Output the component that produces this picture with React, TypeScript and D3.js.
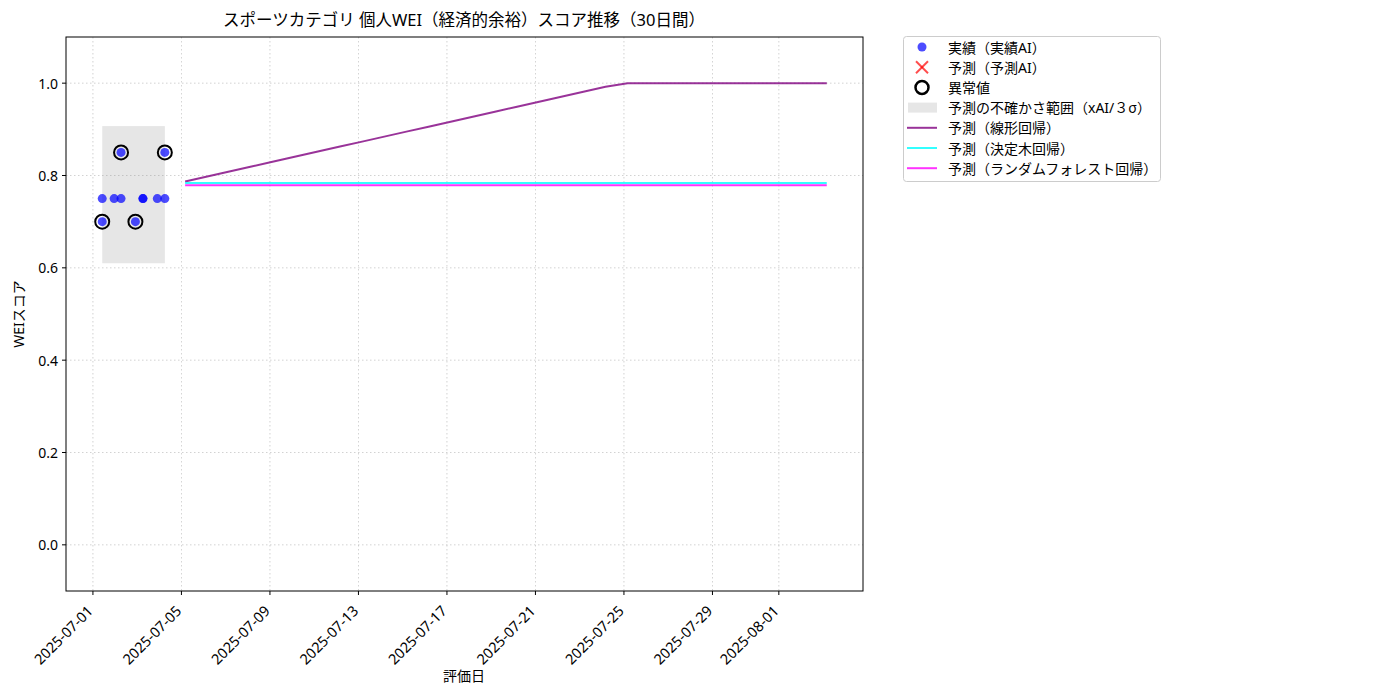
import * as d3 from "d3";

// actual (実績AI) observations
const actualDates = [
  "2025-07-01T10:05Z", "2025-07-01T10:05Z", "2025-07-01T23:00Z", "2025-07-02T06:30Z",
  "2025-07-02T06:30Z", "2025-07-02T22:05Z", "2025-07-03T06:15Z", "2025-07-03T06:15Z",
  "2025-07-03T21:50Z", "2025-07-04T06:00Z", "2025-07-04T06:00Z",
];
const actualValues = [0.75, 0.7, 0.75, 0.75, 0.85, 0.7, 0.75, 0.75, 0.75, 0.75, 0.85];
const outlierFlags = [false, true, false, false, true, true, false, false, false, false, true];

// uncertainty band (xAI / 3σ)
const bandLow = 0.61;
const bandHigh = 0.907;

// forecast days
const forecastDates = [
  "07-05", "07-06", "07-07", "07-08", "07-09", "07-10", "07-11", "07-12", "07-13", "07-14",
  "07-15", "07-16", "07-17", "07-18", "07-19", "07-20", "07-21", "07-22", "07-23", "07-24",
  "07-25", "07-26", "07-27", "07-28", "07-29", "07-30", "07-31", "08-01", "08-02", "08-03",
];
const linearPred = [
  0.787, 0.7978, 0.8086, 0.8194, 0.8302, 0.841, 0.8518, 0.8626, 0.8734, 0.8842,
  0.895, 0.9058, 0.9166, 0.9274, 0.9382, 0.949, 0.9598, 0.9706, 0.9814, 0.9922,
  1.0, 1.0, 1.0, 1.0, 1.0, 1.0, 1.0, 1.0, 1.0, 1.0,
];
const treePred = [
  0.784, 0.784, 0.784, 0.784, 0.784, 0.784, 0.784, 0.784, 0.784, 0.784,
  0.784, 0.784, 0.784, 0.784, 0.784, 0.784, 0.784, 0.784, 0.784, 0.784,
  0.784, 0.784, 0.784, 0.784, 0.784, 0.784, 0.784, 0.784, 0.784, 0.784,
];
const forestPred = [
  0.779, 0.779, 0.779, 0.779, 0.779, 0.779, 0.779, 0.779, 0.779, 0.779,
  0.779, 0.779, 0.779, 0.779, 0.779, 0.779, 0.779, 0.779, 0.779, 0.779,
  0.779, 0.779, 0.779, 0.779, 0.779, 0.779, 0.779, 0.779, 0.779, 0.779,
];

const xTicks = [
  "2025-07-01", "2025-07-05", "2025-07-09", "2025-07-13", "2025-07-17",
  "2025-07-21", "2025-07-25", "2025-07-29", "2025-08-01",
];
const yTicks = [0.0, 0.2, 0.4, 0.6, 0.8, 1.0];

const legendLabels = [
  "実績（実績AI）",
  "予測（予測AI）",
  "異常値",
  "予測の不確かさ範囲（xAI/３σ）",
  "予測（線形回帰）",
  "予測（決定木回帰）",
  "予測（ランダムフォレスト回帰）",
];

const font = "'Noto Sans', 'Noto Sans CJK JP', sans-serif";

export default function App() {
  const margin = { left: 66, right: 863, top: 37, bottom: 591 };

  const actual = actualDates.map((d, i) => ({
    date: new Date(d),
    value: actualValues[i],
    outlier: outlierFlags[i],
  }));
  const fDates = forecastDates.map((d) => new Date(`2025-${d}T04:00Z`));

  const allTimes = [...actual.map((d) => d.date.getTime()), ...fDates.map((d) => d.getTime())];
  const tMin = d3.min(allTimes)!;
  const tMax = d3.max(allTimes)!;
  const pad = (tMax - tMin) * 0.05;

  const x = d3
    .scaleUtc()
    .domain([new Date(tMin - pad), new Date(tMax + pad)])
    .range([margin.left, margin.right]);
  const y = d3.scaleLinear().domain([-0.1, 1.1]).range([margin.bottom, margin.top]);

  const line = d3
    .line<number>()
    .x((_, i) => x(fDates[i]))
    .y((v) => y(v));

  const series = [
    { values: linearPred, color: "rgba(128,0,128,0.8)" },
    { values: treePred, color: "rgba(0,255,255,0.8)" },
    { values: forestPred, color: "rgba(255,0,255,0.8)" },
  ];

  const firstDate = actual[0].date;
  const lastDate = actual[actual.length - 1].date;

  const lx = 922;
  const ly = (i: number) => 47 + i * 20.2;

  return (
    <div style={{ position: "absolute", left: 0, top: 0 }}>
      <svg width={1400} height={700} style={{ fontFamily: font, display: "block" }}>
        <rect width={1400} height={700} fill="white" />

        {/* grid */}
        {xTicks.map((t) => (
          <line
            key={t}
            x1={x(new Date(t + "T00:00Z"))}
            x2={x(new Date(t + "T00:00Z"))}
            y1={margin.top}
            y2={margin.bottom}
            stroke="#b0b0b0"
            strokeWidth={0.8}
            strokeDasharray="1.5,2.5"
            opacity={0.7}
          />
        ))}
        {yTicks.map((t) => (
          <line
            key={t}
            x1={margin.left}
            x2={margin.right}
            y1={y(t)}
            y2={y(t)}
            stroke="#b0b0b0"
            strokeWidth={0.8}
            strokeDasharray="1.5,2.5"
            opacity={0.7}
          />
        ))}

        {/* uncertainty band */}
        <rect
          x={x(firstDate)}
          width={x(lastDate) - x(firstDate)}
          y={y(bandHigh)}
          height={y(bandLow) - y(bandHigh)}
          fill="rgba(128,128,128,0.2)"
        />

        {/* forecast lines */}
        {series.map((s, i) => (
          <path key={i} d={line(s.values) ?? ""} fill="none" stroke={s.color} strokeWidth={2} />
        ))}

        {/* actual points */}
        {actual.map((d, i) => (
          <circle key={i} cx={x(d.date)} cy={y(d.value)} r={4.5} fill="rgba(0,0,255,0.7)" />
        ))}
        {actual
          .filter((d) => d.outlier)
          .map((d, i) => (
            <circle
              key={i}
              cx={x(d.date)}
              cy={y(d.value)}
              r={7}
              fill="none"
              stroke="black"
              strokeWidth={2}
            />
          ))}

        {/* frame */}
        <rect
          x={margin.left}
          y={margin.top}
          width={margin.right - margin.left}
          height={margin.bottom - margin.top}
          fill="none"
          stroke="black"
          strokeWidth={1}
        />

        {/* x axis */}
        {xTicks.map((t) => {
          const px = x(new Date(t + "T00:00Z"));
          return (
            <g key={t}>
              <line x1={px} x2={px} y1={margin.bottom} y2={margin.bottom + 4} stroke="black" />
              <text
                transform={`translate(${px + 1},${margin.bottom + 21}) rotate(-45)`}
                textAnchor="end"
                fontSize={14.5}
                fill="black"
              >
                {t}
              </text>
            </g>
          );
        })}

        {/* y axis */}
        {yTicks.map((t) => (
          <g key={t}>
            <line x1={margin.left - 4} x2={margin.left} y1={y(t)} y2={y(t)} stroke="black" />
            <text
              x={margin.left - 8}
              y={y(t)}
              textAnchor="end"
              dominantBaseline="central"
              fontSize={14}
              fill="black"
            >
              {t.toFixed(1)}
            </text>
          </g>
        ))}

        <text x={464} y={681} textAnchor="middle" fontSize={14} fill="black">
          評価日
        </text>
        <text
          transform={`translate(24,314) rotate(-90)`}
          textAnchor="middle"
          fontSize={14}
          fill="black"
        >
          WEIスコア
        </text>
        <text x={464} y={26} textAnchor="middle" fontSize={16.5} fill="black">
          スポーツカテゴリ 個人WEI（経済的余裕）スコア推移（30日間）
        </text>

        {/* legend */}
        <rect x={903.5} y={36.5} width={257} height={145} rx={3} fill="white" stroke="#cccccc" />
        <circle cx={lx} cy={ly(0)} r={4.5} fill="rgba(0,0,255,0.7)" />
        <g stroke="rgba(255,0,0,0.7)" strokeWidth={2}>
          <line x1={lx - 6} x2={lx + 6} y1={ly(1) - 6} y2={ly(1) + 6} />
          <line x1={lx - 6} x2={lx + 6} y1={ly(1) + 6} y2={ly(1) - 6} />
        </g>
        <circle cx={lx} cy={ly(2)} r={6.5} fill="none" stroke="black" strokeWidth={2.5} />
        <rect x={908} y={ly(3) - 5} width={29} height={10} fill="rgba(128,128,128,0.2)" />
        {series.map((s, i) => (
          <line key={i} x1={907} x2={937} y1={ly(4 + i)} y2={ly(4 + i)} stroke={s.color} strokeWidth={2} />
        ))}
        {legendLabels.map((l, i) => (
          <text key={l} x={948} y={ly(i)} dominantBaseline="central" fontSize={14} fill="black">
            {l}
          </text>
        ))}
      </svg>
    </div>
  );
}
